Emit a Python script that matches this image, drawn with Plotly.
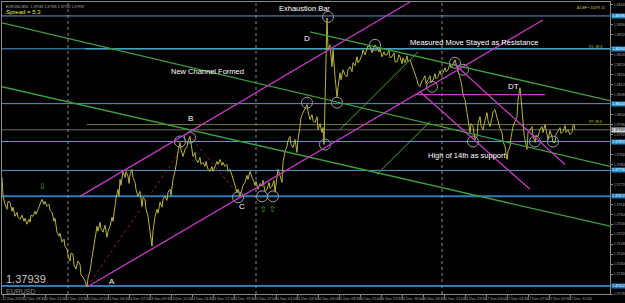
import plotly.graph_objects as go

# ---------------- data ----------------
bar_x = [2, 3, 5, 7, 8, 10, 12, 13, 15, 17,
         18, 20, 22, 24, 25, 27, 29, 30, 31, 33,
         35, 36, 38, 40, 42, 44, 45, 47, 49, 50,
         52, 54, 55, 57, 59, 60, 62, 64, 65, 67,
         68, 70, 71, 73, 74, 76, 78, 80, 81, 83,
         85, 87, 88, 90, 91, 92, 94, 95, 96, 97,
         98, 100, 101, 103, 105, 107, 108, 110, 112, 113,
         115, 116, 118, 119, 120, 121, 123, 125, 126, 128,
         129, 130, 132, 133, 135, 136, 138, 140, 142, 143,
         145, 146, 148, 149, 150, 151, 152, 153, 155, 157,
         158, 160, 162, 163, 165, 167, 168, 170, 171, 173,
         175, 177, 178, 180, 181, 183, 185, 187, 188, 190,
         191, 193, 195, 196, 198, 200, 201, 203, 205, 206,
         208, 210, 212, 213, 215, 217, 218, 220, 222, 223,
         225, 227, 228, 230, 232, 233, 235, 237, 238, 240,
         242, 243, 245, 247, 248, 250, 252, 253, 255, 256,
         258, 260, 262, 263, 265, 267, 269, 270, 272, 274,
         275, 276, 278, 280, 282, 283, 285, 287, 288, 290,
         291, 293, 295, 297, 298, 300, 301, 303, 305, 307,
         308, 310, 312, 313, 315, 317, 318, 320, 322, 323,
         324, 326, 327, 328, 330, 332, 333, 335, 337, 338,
         340, 341, 343, 345, 347, 348, 350, 352, 353, 355,
         357, 358, 360, 362, 363, 365, 367, 368, 370, 372,
         373, 375, 377, 379, 380, 382, 384, 385, 387, 389,
         390, 392, 394, 395, 397, 399, 400, 402, 403, 405,
         407, 408, 410, 412, 413, 415, 417, 418, 420, 422,
         423, 425, 426, 428, 430, 431, 433, 435, 436, 438,
         440, 441, 443, 445, 446, 448, 450, 451, 453, 455,
         457, 458, 460, 461, 462, 463, 465, 467, 468, 469,
         470, 471, 473, 475, 477, 478, 480, 481, 483, 485,
         487, 488, 490, 492, 493, 495, 497, 498, 500, 502,
         503, 505, 506, 507, 508, 510, 511, 513, 515, 517,
         518, 520, 521, 522, 523, 524, 525, 527, 528, 530,
         532, 533, 535, 536, 538, 540, 542, 543, 545, 547,
         548, 550, 552, 553, 555, 556, 558, 560, 561, 563,
         565, 566, 568, 570, 572, 573, 574, 575]
close = [1.37748, 1.37672, 1.37640, 1.37620, 1.37652, 1.37648, 1.37612, 1.37628, 1.37592, 1.37608,
         1.37588, 1.37580, 1.37596, 1.37572, 1.37584, 1.37560, 1.37580, 1.37568, 1.37596, 1.37592,
         1.37612, 1.37600, 1.37620, 1.37644, 1.37660, 1.37640, 1.37652, 1.37632, 1.37640, 1.37616,
         1.37608, 1.37572, 1.37584, 1.37528, 1.37512, 1.37524, 1.37488, 1.37500, 1.37472, 1.37460,
         1.37436, 1.37412, 1.37444, 1.37440, 1.37396, 1.37380, 1.37412, 1.37400, 1.37356, 1.37348,
         1.37332, 1.37308, 1.37344, 1.37372, 1.37412, 1.37428, 1.37476, 1.37500, 1.37532, 1.37552,
         1.37532, 1.37568, 1.37540, 1.37528, 1.37556, 1.37508, 1.37532, 1.37552, 1.37588, 1.37572,
         1.37632, 1.37664, 1.37700, 1.37672, 1.37740, 1.37716, 1.37772, 1.37748, 1.37772, 1.37752,
         1.37724, 1.37760, 1.37780, 1.37748, 1.37728, 1.37700, 1.37672, 1.37692, 1.37632, 1.37668,
         1.37660, 1.37620, 1.37592, 1.37556, 1.37540, 1.37500, 1.37472, 1.37532, 1.37592, 1.37620,
         1.37604, 1.37648, 1.37628, 1.37660, 1.37672, 1.37656, 1.37688, 1.37700, 1.37676, 1.37740,
         1.37772, 1.37820, 1.37852, 1.37888, 1.37860, 1.37832, 1.37860, 1.37872, 1.37892, 1.37912,
         1.37880, 1.37832, 1.37848, 1.37820, 1.37808, 1.37828, 1.37800, 1.37808, 1.37792, 1.37812,
         1.37780, 1.37772, 1.37792, 1.37772, 1.37792, 1.37812, 1.37800, 1.37820, 1.37796, 1.37808,
         1.37792, 1.37800, 1.37772, 1.37780, 1.37756, 1.37740, 1.37708, 1.37688, 1.37700, 1.37672,
         1.37700, 1.37716, 1.37728, 1.37756, 1.37740, 1.37772, 1.37748, 1.37740, 1.37716, 1.37732,
         1.37700, 1.37724, 1.37712, 1.37736, 1.37692, 1.37700, 1.37728, 1.37704, 1.37712, 1.37736,
         1.37688, 1.37720, 1.37780, 1.37756, 1.37728, 1.37808, 1.37852, 1.37872, 1.37896, 1.37912,
         1.37880, 1.37868, 1.37900, 1.37848, 1.37900, 1.37952, 1.37988, 1.38008, 1.38028, 1.38040,
         1.38012, 1.37980, 1.38000, 1.37976, 1.37968, 1.37992, 1.37940, 1.37964, 1.37928, 1.37948,
         1.37880, 1.38220, 1.38388, 1.38260, 1.38280, 1.38192, 1.38260, 1.38152, 1.38072, 1.38108,
         1.38168, 1.38140, 1.38180, 1.38160, 1.38152, 1.38180, 1.38192, 1.38172, 1.38208, 1.38196,
         1.38232, 1.38208, 1.38220, 1.38240, 1.38260, 1.38240, 1.38260, 1.38276, 1.38272, 1.38248,
         1.38260, 1.38280, 1.38268, 1.38252, 1.38264, 1.38232, 1.38252, 1.38240, 1.38240, 1.38260,
         1.38228, 1.38232, 1.38248, 1.38212, 1.38212, 1.38240, 1.38232, 1.38204, 1.38228, 1.38208,
         1.38236, 1.38212, 1.38220, 1.38196, 1.38192, 1.38160, 1.38140, 1.38120, 1.38112, 1.38136,
         1.38140, 1.38156, 1.38124, 1.38140, 1.38156, 1.38128, 1.38140, 1.38164, 1.38144, 1.38152,
         1.38176, 1.38160, 1.38168, 1.38188, 1.38172, 1.38180, 1.38204, 1.38188, 1.38200, 1.38220,
         1.38192, 1.38180, 1.38152, 1.38132, 1.38112, 1.38080, 1.38060, 1.38012, 1.37980, 1.37948,
         1.37928, 1.37964, 1.37952, 1.37900, 1.37912, 1.37964, 1.37992, 1.37956, 1.37940, 1.37976,
         1.38008, 1.37976, 1.37952, 1.37988, 1.38012, 1.38020, 1.37988, 1.37968, 1.37944, 1.37928,
         1.37892, 1.37872, 1.37840, 1.37820, 1.37852, 1.37872, 1.37908, 1.37952, 1.37972, 1.37992,
         1.38060, 1.38108, 1.38068, 1.38020, 1.37952, 1.37924, 1.37900, 1.37860, 1.37928, 1.37936,
         1.37952, 1.37916, 1.37888, 1.37916, 1.37912, 1.37940, 1.37952, 1.37928, 1.37960, 1.37928,
         1.37900, 1.37936, 1.37912, 1.37888, 1.37888, 1.37920, 1.37932, 1.37948, 1.37924, 1.37932,
         1.37956, 1.37928, 1.37940, 1.37920, 1.37928, 1.37956, 1.37960, 1.37939]
assert len(bar_x) == len(close)

current_price = 1.37939
symbol = "EURUSD"
spread_text = "Spread = 5.3"
info_text = "EURUSD,M15  1.37936 1.37945 1.37932 1.37939"
corner_text = "A DEF • 20479 15"

hline_prices = [1.38396, 1.38264, 1.38044, 1.37892, 1.37776, 1.37672, 1.37312]
pivot_level = 1.37960
pivot_start = 87
r1_overlay_start = 85
level_tags = ["R1, 88.8", "PP, 88.8"]
level_tag_p = [1.38272, 1.37972]

# trend lines: (x0, price0, x1, price1)
green_lines = [(2, 1.38368, 610, 1.37792), (2, 1.38112, 610, 1.37552), (310, 1.38332, 610, 1.38056)]
light_green_lines = [(340, 1.37940, 418, 1.38252), (377, 1.37760, 430, 1.37972)]
magenta_lines = [(87, 1.37308, 543, 1.38380), (80, 1.37672, 410, 1.38452),
                 (453, 1.38208, 565, 1.37800), (420, 1.38092, 530, 1.37700),
                 (415, 1.38080, 545, 1.38080)]
zigzag_x = [87, 190, 240]
zigzag_p = [1.37308, 1.37912, 1.37672]
day_separators = [68, 256, 442]

circle_x = [180, 190, 238, 262, 273, 307, 337, 325, 328, 375, 432, 455, 463, 473, 535, 553]
circle_p = [1.37892, 1.37908, 1.37668, 1.37672, 1.37672, 1.38048, 1.38048, 1.37880,
            1.38392, 1.38280, 1.38112, 1.38208, 1.38180, 1.37892, 1.37892, 1.37892]

arrow_x = [42, 263, 272]
arrow_p = [1.37712, 1.37620, 1.37620]
arrow_glyph = ["⇩", "⇧", "⇧"]

note_text = ["Exhaustion Bar", "New Channel Formed", "Measured Move Stayed as Resistance",
             "High of 14th as support"]
note_x = [304, 207, 474, 467]
note_p = [1.38424, 1.38172, 1.38288, 1.37836]

letter_text = ["A", "B", "C", "D", "DT"]
letter_x = [112, 190, 242, 307, 513]
letter_p = [1.37332, 1.37984, 1.37632, 1.38304, 1.38112]

time_tick_pos = [13 + 21 * i for i in range(28)]
time_labels = ["12 Dec 2013", "12 Dec 18:30", "12 Dec 21:00", "12 Dec 23:30", "13 Dec 02:00",
               "13 Dec 04:30", "13 Dec 07:00", "13 Dec 09:30", "13 Dec 12:00", "13 Dec 14:30",
               "13 Dec 17:00", "13 Dec 19:30", "13 Dec 22:00", "16 Dec 01:00", "16 Dec 03:30",
               "16 Dec 06:00", "16 Dec 08:30", "16 Dec 11:00", "16 Dec 13:30", "16 Dec 16:00",
               "16 Dec 18:30", "16 Dec 21:00", "16 Dec 23:30", "17 Dec 02:00", "17 Dec 04:30",
               "17 Dec 07:00", "17 Dec 09:30", "17 Dec 12:00"]

# ---------------- figure ----------------
FONT = "Arial, Liberation Sans, sans-serif"
Y_LO, Y_HI = 1.3728, 1.38452
fig = go.Figure()
shapes = []

for i, p in enumerate(hline_prices):
    thick = i in (5, 6)
    shapes.append(dict(type="line", xref="paper", x0=0, x1=1, yref="y", y0=p, y1=p,
                       line=dict(color="#2f7db5" if thick else "#4f9dd2", width=2 if thick else 1),
                       layer="below"))
shapes.append(dict(type="line", xref="x", x0=r1_overlay_start, x1=610, yref="y",
                   y0=hline_prices[1], y1=hline_prices[1],
                   line=dict(color="#4cc3d6", width=1), layer="below"))
shapes.append(dict(type="line", xref="x", x0=pivot_start, x1=610, yref="y", y0=pivot_level, y1=pivot_level,
                   line=dict(color="#77772c", width=1), layer="below"))
shapes.append(dict(type="line", xref="paper", x0=0, x1=1, yref="y", y0=current_price, y1=current_price,
                   line=dict(color="#6a6a6a", width=1), layer="below"))
for xs in day_separators:
    shapes.append(dict(type="line", xref="x", x0=xs, x1=xs, yref="paper", y0=0, y1=1,
                       line=dict(color="#8a8a8a", width=1, dash="dot"), layer="below"))
for (x0, p0, x1, p1) in green_lines:
    shapes.append(dict(type="line", xref="x", yref="y", x0=x0, y0=p0, x1=x1, y1=p1,
                       line=dict(color="#3f9f3f", width=1.3)))
for (x0, p0, x1, p1) in light_green_lines:
    shapes.append(dict(type="line", xref="x", yref="y", x0=x0, y0=p0, x1=x1, y1=p1,
                       line=dict(color="#4fa83f", width=1)))
for (x0, p0, x1, p1) in magenta_lines:
    shapes.append(dict(type="line", xref="x", yref="y", x0=x0, y0=p0, x1=x1, y1=p1,
                       line=dict(color="#c43cc4", width=1.3)))

fig.add_trace(go.Scatter(x=zigzag_x, y=zigzag_p, mode="lines",
                         line=dict(color="#8e1f1f", width=1, dash="dot"), hoverinfo="skip"))
fig.add_trace(go.Scatter(x=bar_x, y=close, mode="lines",
                         line=dict(color="#b9b43e", width=1), hoverinfo="skip"))
fig.add_trace(go.Scatter(x=circle_x, y=circle_p, mode="markers",
                         marker=dict(symbol="circle-open", size=11, color="#9c9c9c", line=dict(width=1)),
                         hoverinfo="skip"))

ann = []
for t, x, p in zip(note_text, note_x, note_p):
    ann.append(dict(x=x, y=p, xref="x", yref="y", text=t, showarrow=False,
                    font=dict(family=FONT, size=7.5, color="#ffffff")))
for t, x, p in zip(letter_text, letter_x, letter_p):
    ann.append(dict(x=x, y=p, xref="x", yref="y", text=t, showarrow=False,
                    font=dict(family=FONT, size=8, color="#ffffff")))
for t, x, p in zip(arrow_glyph, arrow_x, arrow_p):
    ann.append(dict(x=x, y=p, xref="x", yref="y", text=t, showarrow=False,
                    font=dict(family="DejaVu Sans", size=8, color="#3cb43c")))
for i, p in enumerate(hline_prices):
    ann.append(dict(x=1, y=p, xref="paper", yref="y", xanchor="left", xshift=1, text=f"{p:.5f}",
                    showarrow=False, bgcolor="#1e8fd0" if i not in (5, 6) else "#1f78b8", borderpad=0,
                    font=dict(family=FONT, size=3.5, color="#ffffff")))
ann.append(dict(x=1, y=current_price, xref="paper", yref="y", xanchor="left", xshift=1,
                text=f"{current_price:.5f}", showarrow=False, bgcolor="#d8d8d8", borderpad=0,
                font=dict(family=FONT, size=3.5, color="#000000")))
ann.append(dict(x=0.004, y=1.3734, xref="paper", yref="y", xanchor="left", text=f"{current_price:.5f}",
                showarrow=False, font=dict(family=FONT, size=11, color="#c8c8c8")))
ann.append(dict(x=0.004, y=1.37292, xref="paper", yref="y", xanchor="left", text=symbol,
                showarrow=False, font=dict(family=FONT, size=7, color="#8c8c8c")))
ann.append(dict(x=0.004, y=1, xref="paper", yref="paper", xanchor="left", yanchor="top", yshift=-1,
                text=info_text, showarrow=False, font=dict(family=FONT, size=3.5, color="#b0b0b0")))
ann.append(dict(x=0.004, y=1, xref="paper", yref="paper", xanchor="left", yanchor="top", yshift=-5,
                text=spread_text, showarrow=False, font=dict(family=FONT, size=6, color="#e8e84a")))
ann.append(dict(x=0.995, y=1, xref="paper", yref="paper", xanchor="right", yanchor="top", yshift=-2,
                text=corner_text, showarrow=False, font=dict(family=FONT, size=3.5, color="#c8c84a")))
for t, p in zip(level_tags, level_tag_p):
    ann.append(dict(x=604, y=p, xref="x", yref="y", xanchor="right", text=t,
                    showarrow=False, font=dict(family=FONT, size=3.5, color="#b0b040")))
# time-axis labels (placed just under the plot frame, as on the terminal)
for x, t in zip(time_tick_pos, time_labels):
    ann.append(dict(x=x, y=0, xref="x", yref="paper", yanchor="top", yshift=-1, text=t,
                    showarrow=False, font=dict(family=FONT, size=3.8, color="#a8a8a8")))

# price-axis ticks every 0.0004, leaving room for the highlighted line labels
marked = hline_prices + [current_price]
tick_vals = []
k = 0
while Y_LO + 0.0004 * k <= Y_HI:
    v = round(Y_LO + 0.0004 * k, 5)
    if all(abs(v - m) > 0.00018 for m in marked):
        tick_vals.append(v)
    k += 1

fig.update_layout(
    width=625, height=303, margin=dict(l=2, r=15, t=2, b=9),
    paper_bgcolor="#000000", plot_bgcolor="#000000", showlegend=False,
    shapes=shapes, annotations=ann,
    xaxis=dict(range=[2, 610], showgrid=False, zeroline=False, showline=True, mirror=True,
               linecolor="#8a8a8a", linewidth=1, tickvals=[p - 10 for p in time_tick_pos],
               showticklabels=False, ticks="outside", ticklen=2,
               tickcolor="#8a8a8a", automargin=False),
    yaxis=dict(range=[Y_LO, Y_HI], side="right", showgrid=False, zeroline=False, showline=True,
               mirror=True, linecolor="#8a8a8a", linewidth=1, tickvals=tick_vals,
               tickformat=".5f", tickfont=dict(family=FONT, size=3.5, color="#a8a8a8"),
               ticks="outside", ticklen=2, tickcolor="#8a8a8a", automargin=False),
)
fig.write_html("out.html")
